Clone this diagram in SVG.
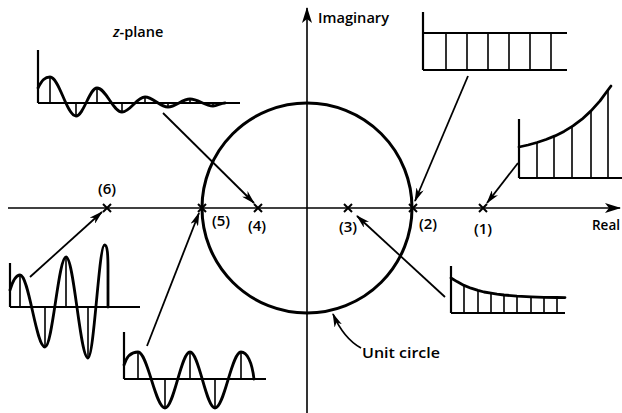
<svg xmlns="http://www.w3.org/2000/svg" width="622" height="413" viewBox="0 0 622 413">
<style>
.ax{stroke:#000;stroke-width:1.6;fill:none}
.wave{stroke:#000;stroke-width:2.8;fill:none;stroke-linejoin:round;stroke-linecap:round}
.base{stroke:#000;stroke-width:2.2;fill:none}
.stem{stroke:#000;stroke-width:1.6;fill:none}
.ptr{stroke:#000;stroke-width:1.8;fill:none}
.mk{stroke:#000;stroke-width:2;fill:none}
.lbl{font-family:"Open Sans","Liberation Sans",sans-serif;font-size:15px;font-weight:600;fill:#000}
.lblb{font-family:"Open Sans","Liberation Sans",sans-serif;font-size:14.5px;font-weight:600;fill:#000}
</style>
<defs>
<marker id="ah" viewBox="0 0 14 8" refX="13" refY="4" markerWidth="14" markerHeight="8" markerUnits="userSpaceOnUse" orient="auto">
<path d="M0,0 L14,4 L0,8 L4,4 z" fill="#000"/>
</marker>
<marker id="axh" viewBox="0 0 16 10" refX="15" refY="5" markerWidth="16" markerHeight="10" markerUnits="userSpaceOnUse" orient="auto">
<path d="M0,0 L16,5 L0,10 L4,5 z" fill="#000"/>
</marker>
</defs>

<g id="axes">
<line class="ax" x1="8" y1="208" x2="620" y2="208" marker-end="url(#axh)"/>
<line class="ax" x1="307" y1="413" x2="307" y2="8" marker-end="url(#axh)"/>
<text class="lblb" x="318" y="23" textLength="71" lengthAdjust="spacingAndGlyphs">Imaginary</text>
<text class="lblb" x="592" y="230" font-size="15" textLength="28" lengthAdjust="spacingAndGlyphs">Real</text>
<text class="lblb" x="113" y="37" font-size="15.5"><tspan font-style="italic">z</tspan>-plane</text>
</g>

<g id="unit-circle">
<circle cx="307" cy="208" r="105" fill="none" stroke="#000" stroke-width="3"/>
<text class="lblb" x="362" y="358" font-size="15.5" textLength="78" lengthAdjust="spacingAndGlyphs">Unit circle</text>
</g>

<g id="poles">
<g id="p6"><path class="mk" d="M103,204 L111,212 M111,204 L103,212"/><text class="lbl" x="107" y="194" text-anchor="middle">(6)</text></g>
<g id="p5"><path class="mk" d="M198,204 L206,212 M206,204 L198,212"/><text class="lbl" x="221" y="226" text-anchor="middle">(5)</text></g>
<g id="p4"><path class="mk" d="M254,204 L262,212 M262,204 L254,212"/><text class="lbl" x="257" y="231" text-anchor="middle">(4)</text></g>
<g id="p3"><path class="mk" d="M344,204 L352,212 M352,204 L344,212"/><text class="lbl" x="348" y="232" text-anchor="middle">(3)</text></g>
<g id="p2"><path class="mk" d="M409,204 L417,212 M417,204 L409,212"/><text class="lbl" x="428" y="229" text-anchor="middle">(2)</text></g>
<g id="p1"><path class="mk" d="M479,204 L487,212 M487,204 L479,212"/><text class="lbl" x="483" y="234" text-anchor="middle">(1)</text></g>
</g>

<g id="sig-damped-osc">
<line class="base" x1="38" y1="50" x2="38" y2="103"/>
<line class="base" x1="38" y1="103" x2="240" y2="103"/>
<path class="stem" d="M50,77V103 M76,103V116 M97,88V103 M122,103V112 M145,97V103 M168,103V107 M190,99V103 M213,103V106"/>
<path class="wave" d="M38,88 C42,80 45,77 50,77 C59.4,77 66.6,116 76,116 C83.6,116 89.4,88 97,88 C106,88 113,112 122,112 C130.3,112 136.7,97 145,97 C153.3,97 159.7,107 168,107 C176,107 182,99 190,99 C198.3,99 204.7,106 213,106 C217,106 221,103 225,103"/>
</g>

<g id="sig-constant">
<line class="base" x1="423" y1="12" x2="423" y2="70"/>
<line class="base" x1="423" y1="33" x2="567" y2="33"/>
<line class="base" x1="423" y1="70" x2="567" y2="70"/>
<path class="stem" d="M446,33V70 M467,33V70 M488,33V70 M509,33V70 M530,33V70 M551,33V70"/>
</g>

<g id="sig-growing">
<line class="base" x1="519" y1="119" x2="519" y2="178"/>
<line class="base" x1="519" y1="178" x2="622" y2="178"/>
<path class="stem" d="M537,142.5V178 M554,136.5V178 M572,126.5V178 M591,111V178 M608,90V178"/>
<path class="wave" d="M519,147 L528,145 L537,142.5 L546,139.5 L555,135.9 L564,131.4 L573,125.9 L582,119.2 L591,110.9 L600,100.9 L608,90 L611,86"/>
</g>

<g id="sig-decaying">
<line class="base" x1="451" y1="266" x2="451" y2="313"/>
<line class="base" x1="451" y1="313" x2="565" y2="313"/>
<path class="stem" d="M464,285.4V313 M478,290.4V313 M491,293.2V313 M504,295V313 M517,296.1V313 M531,296.8V313 M544,297.3V313 M557,297.5V313"/>
<path class="wave" d="M451,278 L457,281.6 L464,285.4 L471,288.2 L478,290.4 L484,292 L491,293.2 L497,294.2 L504,295 L517,296.1 L531,296.8 L544,297.3 L557,297.5 L565,297.6"/>
</g>

<g id="sig-growing-osc">
<line class="base" x1="10" y1="263" x2="10" y2="307"/>
<line class="base" x1="10" y1="307" x2="140" y2="307"/>
<path class="stem" d="M20,275V307 M45,307V347 M66,257V307 M88,307V358"/>
<path class="wave" d="M10,290 C13,280 16,275 20,275 C29,275 36,347 45,347 C52.6,347 58.4,257 66,257 C74,257 80,358 88,358 C94.1,358 98.9,245 104.5,245 C107.5,245 108,255 108,270 L108,307"/>
</g>

<g id="sig-alternating">
<line class="base" x1="124" y1="332" x2="124" y2="379"/>
<line class="base" x1="124" y1="379" x2="266" y2="379"/>
<path class="stem" d="M138,352V379 M165,379V408 M190,352V379 M215,379V408 M241,352V379"/>
<path class="wave" d="M124,365 C127,355 132,352 138,352 C147.7,352 155.3,408 165,408 C174,408 181,352 190,352 C199,352 206,408 215,408 C224.4,408 231.6,352 241,352 C247,352 252,362 254,379"/>
</g>

<g id="connectors">
<line class="ptr" x1="163" y1="113" x2="254" y2="203" marker-end="url(#ah)"/>
<line class="ptr" x1="468" y1="76" x2="415" y2="201" marker-end="url(#ah)"/>
<line class="ptr" x1="518" y1="163" x2="487" y2="203" marker-end="url(#ah)"/>
<line class="ptr" x1="445" y1="297" x2="357" y2="216" marker-end="url(#ah)"/>
<line class="ptr" x1="30" y1="277" x2="102" y2="212" marker-end="url(#ah)"/>
<line class="ptr" x1="147" y1="346" x2="199" y2="213" marker-end="url(#ah)"/>
<path class="ptr" d="M361,348 C350,342 340,330 333,314" marker-end="url(#ah)"/>
</g>
</svg>
